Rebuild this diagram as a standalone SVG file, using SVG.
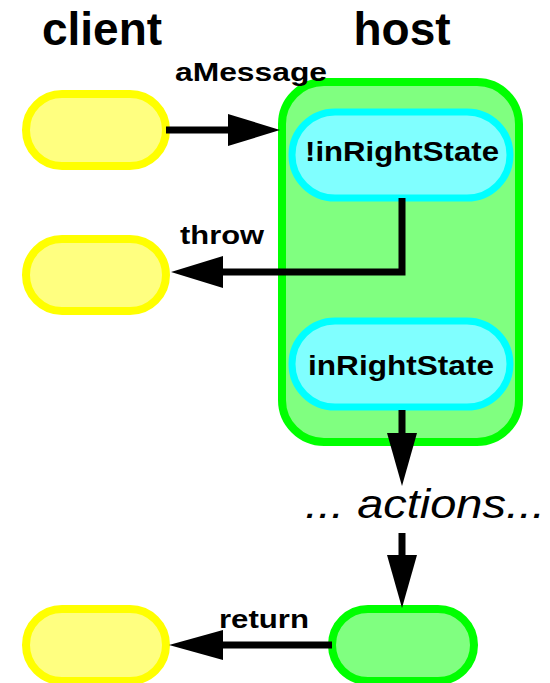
<svg xmlns="http://www.w3.org/2000/svg" width="550" height="683" viewBox="0 0 550 683">
<style>
.yel{fill:#ffff80;stroke:#ffff00;stroke-width:8}
.grn{fill:#80ff80;stroke:#00ff00;stroke-width:8}
.cy{fill:#80ffff;stroke:#00ffff;stroke-width:7}
.t{font-family:"Liberation Sans",Arial,sans-serif;font-weight:bold;fill:#000}
.it{font-family:"Liberation Sans",Arial,sans-serif;font-style:italic;fill:#000}
.ln{fill:none;stroke:#000;stroke-width:7}
.ah{fill:#000}
</style>
<rect width="550" height="683" fill="#fff"/>
<text class="t" x="102" y="45" font-size="46" text-anchor="middle">client</text>
<text class="t" x="402" y="45" font-size="46" text-anchor="middle">host</text>
<g id="host">
<rect class="grn" x="282" y="82" width="237" height="360" rx="42"/>
</g>
<g id="client1"><rect class="yel" x="26" y="94" width="140" height="72" rx="36"/></g>
<g id="client2"><rect class="yel" x="26" y="239" width="140" height="72" rx="36"/></g>
<g id="client3"><rect class="yel" x="26" y="609" width="140" height="72" rx="36"/></g>
<g id="notRight">
<rect class="cy" x="292" y="112" width="218" height="86" rx="43"/>
<text class="t" x="402" y="161" font-size="28" text-anchor="middle" textLength="194" lengthAdjust="spacingAndGlyphs">!inRightState</text>
</g>
<g id="inRight">
<rect class="cy" x="292" y="321" width="218" height="86" rx="43"/>
<text class="t" x="401" y="375" font-size="28" text-anchor="middle" textLength="186" lengthAdjust="spacingAndGlyphs">inRightState</text>
</g>
<g id="actions">
<text class="it" x="425" y="518" font-size="40" text-anchor="middle" textLength="240" lengthAdjust="spacingAndGlyphs">... actions...</text>
</g>
<g id="done"><rect class="grn" x="332" y="609" width="142" height="72" rx="36"/></g>
<g id="connectors">
<line class="ln" x1="166" y1="130" x2="230" y2="130"/>
<polygon class="ah" points="280,130 228,114 228,146"/>
<text class="t" x="251" y="81" font-size="25" text-anchor="middle" textLength="152" lengthAdjust="spacingAndGlyphs">aMessage</text>
<polyline class="ln" points="402,198 402,272 220,272"/>
<polygon class="ah" points="171,272 223,256 223,288"/>
<text class="t" x="222" y="244" font-size="25" text-anchor="middle" textLength="84" lengthAdjust="spacingAndGlyphs">throw</text>
<line class="ln" x1="402" y1="410" x2="402" y2="436"/>
<polygon class="ah" points="402,486 387,433 417,433"/>
<line class="ln" x1="402" y1="533" x2="402" y2="557"/>
<polygon class="ah" points="402,608 387,555 417,555"/>
<line class="ln" x1="332" y1="645" x2="220" y2="645"/>
<polygon class="ah" points="169,645 223,630 223,660"/>
<text class="t" x="264" y="628" font-size="25" text-anchor="middle" textLength="90" lengthAdjust="spacingAndGlyphs">return</text>
</g>
</svg>
